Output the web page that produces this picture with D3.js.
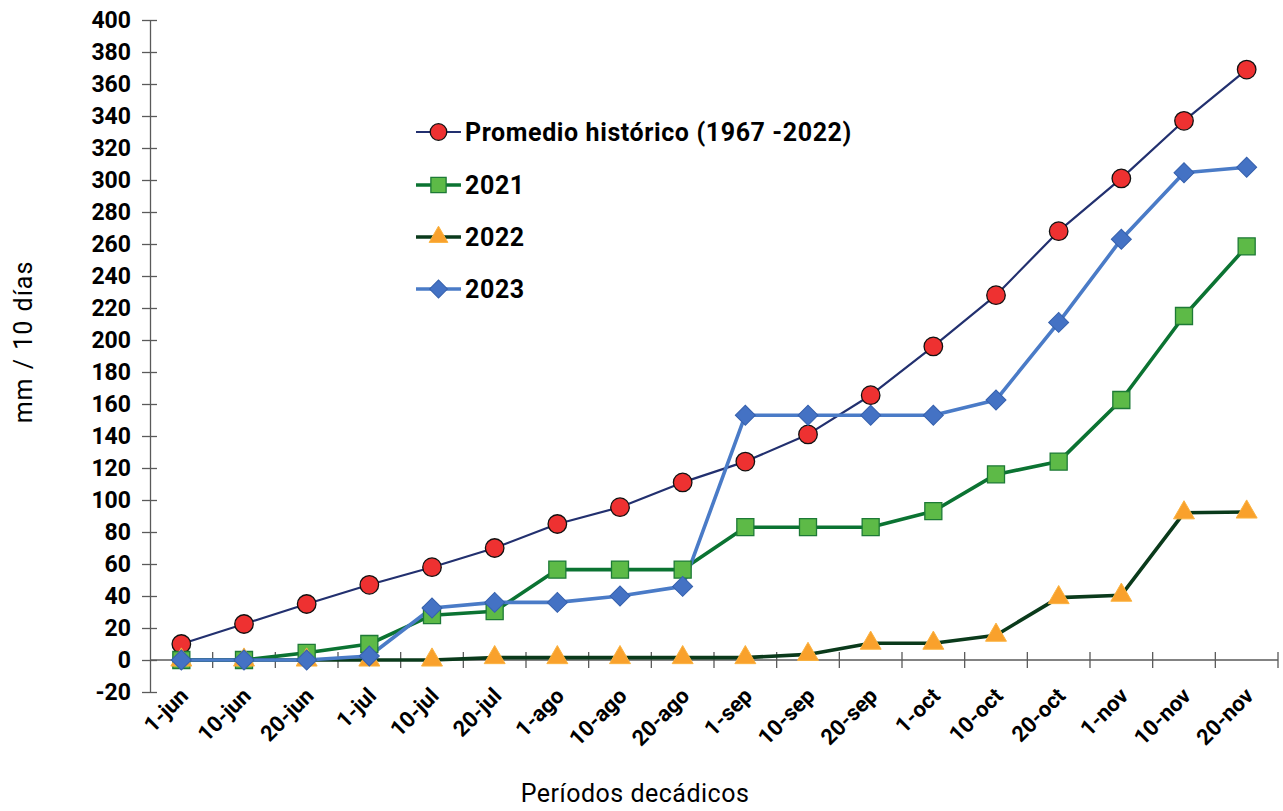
<!DOCTYPE html>
<html>
<head>
<meta charset="utf-8">
<script src="https://cdn.jsdelivr.net/npm/d3@7"></script>
<style>
  html, body { margin: 0; padding: 0; background: #fff; }
  svg { display: block; font-family: Roboto, "Liberation Sans", Arial, sans-serif; }
</style>
</head>
<body>
<svg id="chart" width="1283" height="811"></svg>
<script>
// Ten-day periods (decadal), June to November
const periods = ["1-jun","10-jun","20-jun","1-jul","10-jul","20-jul","1-ago","10-ago","20-ago",
                 "1-sep","10-sep","20-sep","1-oct","10-oct","20-oct","1-nov","10-nov","20-nov"];

// Accumulated rainfall, mm
const historico = [10, 22.5, 35, 47, 58, 70, 85, 95.5, 111, 124, 141, 165.5, 196, 228, 268, 301, 337, 369];
const y2021     = [0, 0, 4.5, 10, 28, 30.5, 56.5, 56.5, 56.5, 83, 83, 83, 93, 116, 124, 162.5, 215, 258.5];
const y2022     = [0, 0, 0, 0, 0, 1.5, 1.5, 1.5, 1.5, 1.5, 3.5, 10.5, 10.5, 15.5, 39, 40.5, 92, 92.5];
const y2023     = [0, 0, 0, 2.5, 32.5, 36, 36, 40, 46, 153, 153, 153, 153, 162.5, 211, 263, 304.5, 308];

const yTicks = d3.range(-20, 401, 20);

const series = [
  { name: "Promedio histórico (1967 -2022)", values: historico, line: "#22306f", width: 2.2,
    shape: d3.symbolCircle, size: 270, rot: 0, fill: "#ee3131", stroke: "#111", sw: 1.3 },
  { name: "2021", values: y2021, line: "#0b7332", width: 3.6,
    shape: d3.symbolSquare, size: 290, rot: 0, fill: "#5dba47", stroke: "#1d7a36", sw: 1.3 },
  { name: "2022", values: y2022, line: "#0a3a1b", width: 3.6,
    shape: d3.symbolTriangle, size: 190, rot: 0, fill: "#f9a12c", stroke: "#fbb340", sw: 1 },
  { name: "2023", values: y2023, line: "#4a7bc7", width: 3.6,
    shape: d3.symbolSquare, size: 200, rot: 45, fill: "#4472c4", stroke: "#3560ad", sw: 1 }
];

const svg = d3.select("#chart");
const plotLeft = 150, plotRight = 1278, plotTop = 20, plotBottom = 692;

const x = d3.scaleBand().domain(periods).range([plotLeft, plotRight]);
const y = d3.scaleLinear().domain([-20, 400]).range([plotBottom, plotTop]);
const cx = p => x(p) + x.bandwidth() / 2;

const axisColor = "#5a5a5a";

// Y axis (plain hyphen for negatives)
const yAxis = svg.append("g")
  .attr("transform", `translate(${plotLeft},0)`)
  .call(d3.axisLeft(y).tickValues(yTicks).tickFormat(d => String(d))
    .tickSize(8).tickPadding(11).tickSizeOuter(0));
yAxis.select(".domain").attr("stroke", axisColor).attr("stroke-width", 1.3);
yAxis.selectAll(".tick line").attr("stroke", axisColor).attr("stroke-width", 1.3).attr("x2", 7).attr("x1", -8);
yAxis.selectAll(".tick text").attr("font-size", 23).attr("font-weight", 700).attr("fill", "#000")
  .attr("font-family", "Roboto, sans-serif");

// X axis along zero, ticks at band boundaries
const xAxisG = svg.append("g").attr("transform", `translate(0,${y(0)})`);
xAxisG.append("line").attr("x1", plotLeft).attr("x2", plotRight).attr("stroke", axisColor).attr("stroke-width", 1.3);
const boundaries = periods.map(p => x(p) + x.bandwidth());
xAxisG.selectAll("line.tk").data(boundaries).join("line").attr("class", "tk")
  .attr("x1", d => d).attr("x2", d => d).attr("y1", -8).attr("y2", 8)
  .attr("stroke", axisColor).attr("stroke-width", 1.3);

// Rotated period labels
svg.append("g").selectAll("text").data(periods).join("text")
  .attr("transform", p => `translate(${cx(p) - 3},${y(-20) - 6}) rotate(-45)`)
  .attr("text-anchor", "end").attr("dy", "0.72em")
  .attr("font-size", 22).attr("font-weight", 700).attr("fill", "#000")
  .text(p => p);

// Lines and markers
const line = d3.line().x((d, i) => cx(periods[i])).y(d => y(d));
series.forEach(s => {
  svg.append("path").datum(s.values).attr("d", line)
    .attr("fill", "none").attr("stroke", s.line).attr("stroke-width", s.width)
    .attr("stroke-linejoin", "round");
});
series.forEach(s => {
  const sym = d3.symbol().type(s.shape).size(s.size);
  svg.append("g").selectAll("path").data(s.values).join("path")
    .attr("transform", (d, i) => `translate(${cx(periods[i])},${y(d)}) rotate(${s.rot})`)
    .attr("d", sym).attr("fill", s.fill).attr("stroke", s.stroke).attr("stroke-width", s.sw);
});

// Legend
const legend = svg.append("g");
const legendY = [132, 185, 237, 289];
series.forEach((s, i) => {
  const g = legend.append("g").attr("transform", `translate(416,${legendY[i]})`);
  g.append("line").attr("x1", 0).attr("x2", 45).attr("stroke", s.line).attr("stroke-width", s.width);
  g.append("path").attr("transform", `translate(22.5,0) rotate(${s.rot})`)
    .attr("d", d3.symbol().type(s.shape).size(s.size * 0.8))
    .attr("fill", s.fill).attr("stroke", s.stroke).attr("stroke-width", s.sw);
  g.append("text").attr("x", 49).attr("dy", "0.36em")
    .attr("font-size", 25).attr("font-weight", 700).attr("letter-spacing", 0.6)
    .attr("fill", "#000").text(s.name);
});

// Axis titles
svg.append("text").attr("transform", "translate(32,342) rotate(-90)")
  .attr("text-anchor", "middle").attr("font-size", 25).attr("letter-spacing", 1)
  .attr("word-spacing", 1).attr("fill", "#000").text("mm / 10 días");
svg.append("text").attr("x", 635).attr("y", 802)
  .attr("text-anchor", "middle").attr("font-size", 25).attr("letter-spacing", 0.5)
  .attr("fill", "#000").text("Períodos decádicos");
</script>
</body>
</html>
